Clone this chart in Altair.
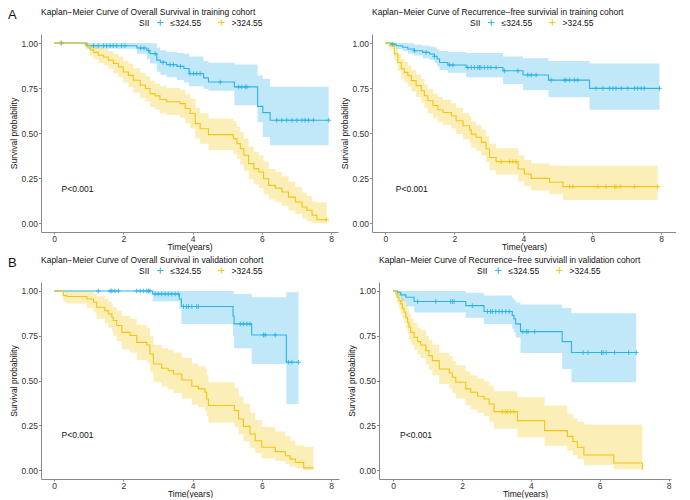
import altair as alt
import numpy as np
import pandas as pd

BLUE = "#2DB3E8"
YELLOW = "#F2C611"
GROUPS = ["≤324.55", ">324.55"]
PLUS = "M-1,0H1M0,-1V1"
FONT = "Liberation Sans"
FS = 8.5

TITLES = [
    "Kaplan−Meier Curve of Overall Survival in training cohort",
    "Kaplan−Meier Curve of Recurrence−free survivial in training cohort",
    "Kaplan−Meier Curve of Overall Survival in validation cohort",
    "Kaplan−Meier Curve of Recurrence−free surviviall in validation cohort",
]
LETTERS = ["A", None, "B", None]
PVAL = "P<0.001"
X_TICKS = [0, 2, 4, 6, 8]
Y_TICKS = [0, 0.25, 0.5, 0.75, 1.0]

# ---------------- Panel 1: OS, training ----------------
p1_lo_t = [0, 0.95, 2.39, 2.68, 2.77, 2.97, 3.07, 3.25, 3.55, 3.75, 3.9, 4.32, 4.46, 5.21, 5.88, 6.03, 6.24, 7.93]
p1_lo_s = [1.0, 0.985, 0.972, 0.958, 0.941, 0.905, 0.893, 0.88, 0.87, 0.858, 0.83, 0.806, 0.783, 0.756, 0.648, 0.613, 0.571, 0.571]
p1_lo_up = [1.0, 1.0, 1.0, 1.0, 0.998, 0.975, 0.96, 0.95, 0.945, 0.94, 0.925, 0.9, 0.89, 0.88, 0.82, 0.8, 0.757, 0.757]
p1_lo_dn = [1.0, 0.968, 0.94, 0.913, 0.886, 0.84, 0.824, 0.81, 0.795, 0.78, 0.76, 0.745, 0.735, 0.654, 0.56, 0.478, 0.432, 0.432]
p1_lo_c = [0.22, 1.14, 1.28, 1.43, 1.52, 1.62, 1.71, 1.81, 1.95, 2.05, 2.5, 2.6, 2.73, 2.92, 3.15, 3.35, 3.45,
           3.65, 3.93, 4.03, 4.12, 4.22, 4.8, 5.33, 5.42, 5.52, 5.57, 6.43, 6.58, 6.72, 6.87, 7.01, 7.16, 7.25,
           7.35, 7.49, 7.93]

p1_hi_t = [0, 0.9, 1.04, 1.14, 1.28, 1.43, 1.57, 1.72, 1.86, 2.0, 2.15, 2.29, 2.49, 2.64, 2.77, 2.92, 3.06, 3.25,
           3.64, 3.79, 3.93, 4.08, 4.22, 4.46, 5.18, 5.28, 5.38, 5.48, 5.62, 5.77, 5.91, 6.05, 6.2, 6.39, 6.58,
           6.77, 6.97, 7.16, 7.3, 7.45, 7.59, 7.87]
p1_hi_s = [1.0, 0.985, 0.962, 0.948, 0.932, 0.922, 0.904, 0.886, 0.867, 0.839, 0.82, 0.793, 0.765, 0.747, 0.719,
           0.706, 0.686, 0.674, 0.663, 0.636, 0.608, 0.552, 0.524, 0.491, 0.469, 0.441, 0.413, 0.376, 0.33, 0.302,
           0.283, 0.246, 0.209, 0.194, 0.172, 0.144, 0.117, 0.089, 0.071, 0.043, 0.018, 0.018]
p1_hi_up = [1.0, 1.0, 0.99, 0.985, 0.975, 0.968, 0.955, 0.94, 0.925, 0.9, 0.885, 0.86, 0.835, 0.815, 0.79, 0.775,
            0.76, 0.75, 0.74, 0.715, 0.69, 0.64, 0.61, 0.58, 0.565, 0.535, 0.505, 0.47, 0.425, 0.395, 0.375, 0.34,
            0.3, 0.285, 0.26, 0.23, 0.2, 0.17, 0.15, 0.12, 0.115, 0.115]
p1_hi_dn = [1.0, 0.97, 0.93, 0.91, 0.89, 0.875, 0.855, 0.83, 0.81, 0.78, 0.755, 0.725, 0.695, 0.675, 0.645, 0.63,
            0.61, 0.6, 0.585, 0.555, 0.525, 0.47, 0.44, 0.405, 0.385, 0.355, 0.325, 0.29, 0.245, 0.215, 0.195,
            0.16, 0.13, 0.115, 0.095, 0.07, 0.05, 0.025, 0.01, 0.0, 0.0, 0.0]
p1_hi_c = [0.18, 7.87]

# ---------------- Panel 2: RFS, training ----------------
p2_lo_t = [0, 0.17, 0.31, 0.5, 0.65, 0.84, 1.08, 1.28, 1.42, 1.5, 1.57, 1.81, 2.34, 3.41, 3.99, 4.73, 5.92, 7.95]
p2_lo_s = [1.0, 0.994, 0.985, 0.976, 0.967, 0.957, 0.948, 0.939, 0.926, 0.911, 0.892, 0.878, 0.864, 0.846, 0.822,
           0.794, 0.748, 0.748]
p2_lo_up = [1.0, 1.0, 1.0, 1.0, 0.998, 0.99, 0.985, 0.98, 0.975, 0.965, 0.955, 0.95, 0.945, 0.925, 0.915, 0.9,
            0.886, 0.886]
p2_lo_dn = [1.0, 0.98, 0.965, 0.955, 0.94, 0.93, 0.915, 0.905, 0.89, 0.87, 0.85, 0.835, 0.81, 0.772, 0.739, 0.698,
            0.629, 0.629]
p2_lo_c = [0.21, 0.84, 1.18, 1.42, 1.86, 1.96, 2.39, 2.49, 2.58, 2.68, 2.73, 2.77, 2.87, 2.97, 3.06, 3.21, 3.45,
           3.84, 4.13, 4.23, 4.37, 4.81, 5.19, 5.24, 5.34, 5.48, 5.58, 6.11, 6.31, 6.5, 6.6, 6.69, 6.84, 7.03,
           7.23, 7.32, 7.42, 7.51, 7.95]

p2_hi_t = [0, 0.12, 0.26, 0.36, 0.46, 0.55, 0.65, 0.75, 0.89, 1.04, 1.13, 1.23, 1.38, 1.52, 1.67, 1.91, 2.05, 2.25,
           2.44, 2.49, 2.63, 2.78, 2.92, 3.02, 3.21, 3.85, 4.03, 4.23, 4.76, 5.15, 7.9]
p2_hi_s = [1.0, 0.985, 0.94, 0.892, 0.856, 0.837, 0.818, 0.791, 0.763, 0.735, 0.707, 0.679, 0.652, 0.629, 0.614,
           0.596, 0.568, 0.54, 0.518, 0.494, 0.476, 0.448, 0.411, 0.364, 0.341, 0.3, 0.272, 0.248, 0.226, 0.202,
           0.202]
p2_hi_up = [1.0, 1.0, 0.975, 0.94, 0.91, 0.895, 0.875, 0.85, 0.825, 0.8, 0.77, 0.745, 0.72, 0.7, 0.685, 0.665,
            0.64, 0.61, 0.59, 0.565, 0.545, 0.52, 0.485, 0.44, 0.415, 0.375, 0.35, 0.33, 0.32, 0.318, 0.318]
p2_hi_dn = [1.0, 0.965, 0.9, 0.845, 0.8, 0.78, 0.76, 0.73, 0.7, 0.67, 0.64, 0.61, 0.585, 0.56, 0.545, 0.525,
            0.495, 0.465, 0.445, 0.42, 0.4, 0.375, 0.34, 0.295, 0.27, 0.23, 0.205, 0.18, 0.16, 0.128, 0.128]
p2_hi_c = [3.36, 3.6, 3.7, 3.79, 5.34, 5.44, 6.16, 6.4, 6.65, 6.69, 6.81, 7.23, 7.9]

# ---------------- Panel 3: OS, validation ----------------
p3_lo_t = [0, 2.85, 3.62, 3.68, 5.17, 5.2, 5.71, 6.71, 7.06]
p3_lo_s = [1.0, 0.983, 0.955, 0.913, 0.86, 0.816, 0.754, 0.602, 0.602]
p3_lo_up = [1.0, 1.0, 1.0, 1.0, 1.0, 0.983, 0.965, 0.993, 0.993]
p3_lo_dn = [1.0, 0.942, 0.9, 0.816, 0.75, 0.68, 0.592, 0.369, 0.369]
p3_lo_c = [1.28, 1.62, 1.67, 1.76, 1.86, 2.39, 2.49, 2.58, 2.68, 2.73, 2.77, 2.92, 3.01, 3.11, 3.21, 3.3, 3.4,
           3.5, 3.59, 3.74, 3.83, 3.88, 3.98, 4.12, 4.17, 5.38, 5.47, 5.57, 5.66, 6.05, 6.1, 6.39, 6.77, 6.87, 7.06]

p3_hi_t = [0, 0.27, 0.37, 0.95, 1.14, 1.23, 1.47, 1.57, 1.67, 1.71, 1.81, 1.96, 2.2, 2.39, 2.68, 2.77, 2.87, 3.11,
           3.3, 3.45, 3.69, 3.98, 4.17, 4.36, 4.41, 4.46, 5.21, 5.33, 5.47, 5.66, 5.81, 6.0, 6.39, 6.68, 6.82, 6.97,
           7.21, 7.49]
p3_hi_s = [1.0, 0.974, 0.969, 0.955, 0.937, 0.909, 0.89, 0.872, 0.853, 0.835, 0.807, 0.769, 0.751, 0.713, 0.698,
           0.648, 0.592, 0.568, 0.555, 0.536, 0.503, 0.468, 0.453, 0.434, 0.397, 0.36, 0.332, 0.285, 0.244, 0.201,
           0.164, 0.127, 0.103, 0.08, 0.061, 0.043, 0.012, 0.012]
p3_hi_up = [1.0, 1.0, 1.0, 0.998, 0.985, 0.97, 0.955, 0.94, 0.925, 0.91, 0.89, 0.86, 0.845, 0.81, 0.795, 0.75, 0.7,
            0.68, 0.67, 0.655, 0.625, 0.595, 0.58, 0.565, 0.53, 0.49, 0.46, 0.41, 0.37, 0.32, 0.28, 0.24, 0.215,
            0.19, 0.165, 0.14, 0.13, 0.13]
p3_hi_dn = [1.0, 0.94, 0.93, 0.905, 0.88, 0.845, 0.82, 0.795, 0.775, 0.75, 0.72, 0.675, 0.655, 0.615, 0.6, 0.55,
            0.49, 0.465, 0.45, 0.43, 0.4, 0.365, 0.35, 0.33, 0.3, 0.265, 0.24, 0.2, 0.16, 0.125, 0.095, 0.065, 0.05,
            0.035, 0.02, 0.01, 0.0, 0.0]
p3_hi_c = []

# ---------------- Panel 4: RFS, validation ----------------
p4_lo_t = [0, 0.12, 0.22, 0.37, 0.61, 2.11, 2.64, 3.46, 3.51, 3.56, 3.7, 4.91, 5.18, 7.06]
p4_lo_s = [1.0, 0.993, 0.978, 0.965, 0.941, 0.918, 0.885, 0.863, 0.844, 0.816, 0.773, 0.717, 0.656, 0.656]
p4_lo_up = [1.0, 1.0, 1.0, 1.0, 1.0, 0.99, 0.975, 0.96, 0.95, 0.935, 0.924, 0.905, 0.875, 0.875]
p4_lo_dn = [1.0, 0.97, 0.94, 0.915, 0.88, 0.85, 0.815, 0.79, 0.77, 0.74, 0.654, 0.564, 0.49, 0.49]
p4_lo_c = [0.71, 1.24, 1.67, 1.72, 1.77, 2.3, 2.74, 2.83, 2.88, 2.98, 3.08, 3.17, 3.27, 3.37, 3.77, 3.87, 3.92,
           4.11, 5.52, 5.66, 6.05, 6.1, 6.19, 6.43, 6.84, 7.06]

p4_hi_t = [0, 0.08, 0.12, 0.17, 0.22, 0.27, 0.32, 0.37, 0.42, 0.46, 0.51, 0.61, 0.71, 0.8, 0.95, 1.04, 1.14, 1.34,
           1.63, 1.72, 1.82, 2.11, 2.25, 2.45, 2.64, 2.79, 2.93, 3.61, 4.4, 5.06, 5.22, 5.35, 5.54, 6.41, 7.24]
p4_hi_s = [1.0, 0.983, 0.965, 0.946, 0.928, 0.903, 0.881, 0.853, 0.825, 0.797, 0.769, 0.741, 0.717, 0.698, 0.667,
           0.639, 0.611, 0.564, 0.542, 0.518, 0.49, 0.453, 0.434, 0.412, 0.397, 0.369, 0.326, 0.276, 0.22, 0.188,
           0.159, 0.127, 0.084, 0.039, 0.0]
p4_hi_up = [1.0, 1.0, 1.0, 0.99, 0.975, 0.96, 0.94, 0.92, 0.895, 0.87, 0.845, 0.82, 0.795, 0.78, 0.75, 0.725, 0.7,
            0.655, 0.635, 0.61, 0.585, 0.55, 0.53, 0.51, 0.495, 0.47, 0.44, 0.406, 0.36, 0.315, 0.288, 0.27, 0.254,
            0.254, 0.254]
p4_hi_dn = [1.0, 0.96, 0.93, 0.9, 0.875, 0.845, 0.82, 0.79, 0.76, 0.73, 0.7, 0.67, 0.645, 0.625, 0.59, 0.56, 0.53,
            0.48, 0.455, 0.43, 0.4, 0.36, 0.34, 0.32, 0.3, 0.27, 0.23, 0.183, 0.136, 0.108, 0.084, 0.061, 0.028,
            0.005, 0.0]
p4_hi_c = [3.17, 3.27, 3.32, 3.41, 3.51]

# p-value annotation anchor (time, survival) per panel
PV_POS = [(0.22, 0.19), (0.3, 0.19), (0.22, 0.196), (0.2, 0.196)]
# x-axis domains (ggplot expansion) and panel sizes
X_DOM = [[-0.375, 8.2], [-0.39, 8.43], [-0.375, 8.23], [-0.41, 8.07]]
SIZES = [(297, 198), (304, 198), (298, 197), (292, 197)]

PANELS = [
    [(p1_lo_t, p1_lo_s, p1_lo_up, p1_lo_dn, p1_lo_c), (p1_hi_t, p1_hi_s, p1_hi_up, p1_hi_dn, p1_hi_c)],
    [(p2_lo_t, p2_lo_s, p2_lo_up, p2_lo_dn, p2_lo_c), (p2_hi_t, p2_hi_s, p2_hi_up, p2_hi_dn, p2_hi_c)],
    [(p3_lo_t, p3_lo_s, p3_lo_up, p3_lo_dn, p3_lo_c), (p3_hi_t, p3_hi_s, p3_hi_up, p3_hi_dn, p3_hi_c)],
    [(p4_lo_t, p4_lo_s, p4_lo_up, p4_lo_dn, p4_lo_c), (p4_hi_t, p4_hi_s, p4_hi_up, p4_hi_dn, p4_hi_c)],
]


def frames(groups):
    curves, cens = [], []
    for g, (t, s, up, dn, c) in zip(GROUPS, groups):
        curves.append(pd.DataFrame({"group": g, "time": t, "surv": s, "upper": up, "lower": dn}))
        if c:
            ta = np.array(t)
            idx = np.searchsorted(ta, np.array(c), side="right") - 1
            cens.append(pd.DataFrame({"group": g, "time": c, "surv": np.array(s)[idx]}))
    cens_df = pd.concat(cens) if cens else pd.DataFrame({"group": [], "time": [], "surv": []})
    return pd.concat(curves), cens_df


def panel(i):
    curves, cens = frames(PANELS[i])
    w, h = SIZES[i]
    cscale = alt.Scale(domain=GROUPS, range=[BLUE, YELLOW])
    xenc = alt.X("time:Q", scale=alt.Scale(domain=X_DOM[i], nice=False, zero=False),
                 axis=alt.Axis(values=X_TICKS, format="d", title="Time(years)"))
    yscale = alt.Scale(domain=[-0.05, 1.05], nice=False, zero=False)
    yaxis = alt.Axis(values=Y_TICKS, format=".2f", title="Survival probability")

    band = alt.Chart(curves).mark_area(interpolate="step-after", opacity=0.3).encode(
        x=xenc,
        y=alt.Y("lower:Q", scale=yscale, axis=yaxis, stack=None),
        y2="upper:Q",
        fill=alt.Fill("group:N", scale=cscale, legend=None),
    )
    line = alt.Chart(curves).mark_line(interpolate="step-after", strokeWidth=1.1).encode(
        x=xenc,
        y=alt.Y("surv:Q", scale=yscale, axis=yaxis),
        color=alt.Color("group:N", scale=cscale, legend=alt.Legend(
            orient="none", legendX=98, legendY=-16, direction="horizontal",
            title="SII", titleOrient="left", titleFontWeight="normal", titleFontSize=FS,
            titleColor="#111", labelColor="#111", labelFontSize=FS,
            symbolType=PLUS, symbolSize=40, symbolStrokeWidth=1,
            columnPadding=14, labelOffset=6, titlePadding=6)),
    )
    marks = alt.Chart(cens).mark_point(shape=PLUS, size=22, strokeWidth=0.9, filled=False, opacity=1).encode(
        x=xenc,
        y=alt.Y("surv:Q", scale=yscale, axis=yaxis),
        stroke=alt.Stroke("group:N", scale=cscale, legend=None),
    )
    pv = pd.DataFrame({"time": [PV_POS[i][0]], "surv": [PV_POS[i][1]], "label": [PVAL]})
    ptext = alt.Chart(pv).mark_text(align="left", baseline="middle", fontSize=FS, color="#111").encode(
        x=xenc, y=alt.Y("surv:Q", scale=yscale, axis=yaxis), text="label:N")
    title = alt.Chart(pd.DataFrame({"t": [TITLES[i]]})).mark_text(
        align="left", baseline="middle", fontSize=FS, color="#111").encode(
        x=alt.value(0), y=alt.value(-22), text="t:N")
    layers = [band, line, marks, ptext, title]
    if LETTERS[i]:
        letter = alt.Chart(pd.DataFrame({"t": [LETTERS[i]]})).mark_text(
            align="left", baseline="middle", fontSize=13, color="#111").encode(
            x=alt.value(-33), y=alt.value(-19), text="t:N")
        layers.append(letter)
    return alt.layer(*layers).properties(width=w, height=h)


def indep(c):
    return c.resolve_scale(color="independent").resolve_legend(color="independent")


row1 = indep(alt.hconcat(panel(0), panel(1), spacing=2))
row2 = indep(alt.hconcat(panel(2), panel(3), spacing=8))

chart = indep(alt.vconcat(row1, row2, spacing=5)).properties(padding=0).configure(font=FONT).configure_view(
    stroke=None).configure_axis(
    labelFontSize=FS, titleFontSize=FS, titleFontWeight="normal", labelColor="#333", titleColor="#111",
    domainColor="#8a8a8a", tickColor="#8a8a8a", grid=False, tickSize=2.5, labelPadding=1,
).configure_axisY(titlePadding=2).configure_axisX(titlePadding=0, labelPadding=0, tickSize=2)

chart.save("out.html", embed_options={"renderer": "svg", "actions": False})
